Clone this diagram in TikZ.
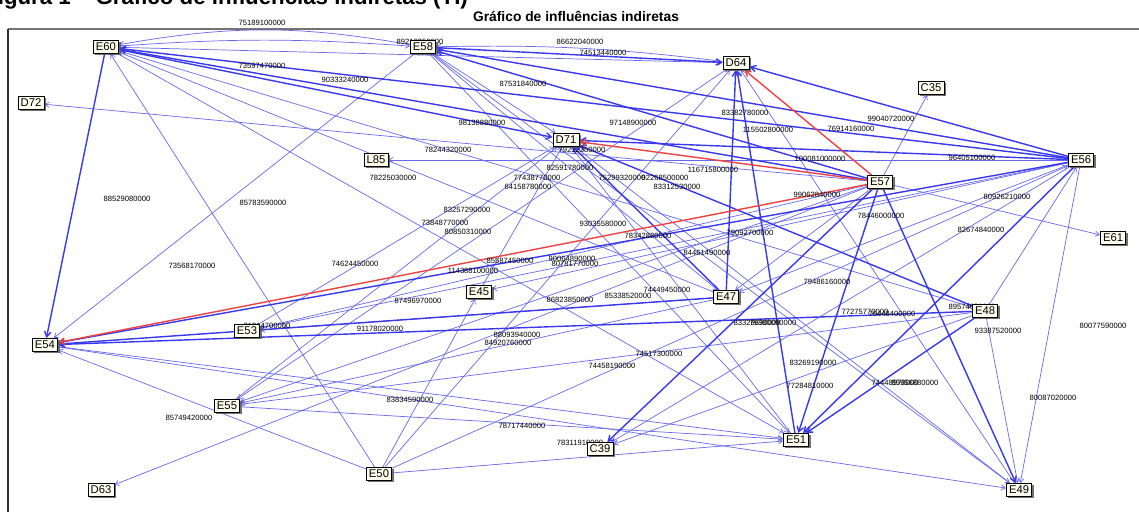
\documentclass[tikz,border=0pt]{standalone}
\usepackage{fontspec}
\setmainfont{Liberation Sans}
\usepackage{xcolor}
\usepackage{tikz}
\usetikzlibrary{arrows.meta,shadows,backgrounds}

\definecolor{azulclaro}{RGB}{104,104,236}
\definecolor{azulforte}{RGB}{56,56,238}
\definecolor{vermelho}{RGB}{238,66,66}
\definecolor{caixa}{RGB}{255,255,240}

\begin{document}
\begin{tikzpicture}[x=0.03cm,y=-0.03cm,
  var/.style={draw=black, fill=caixa, line width=0.7pt, inner xsep=2.3pt, inner ysep=2.2pt,
    font=\fontsize{9.6}{9.6}\selectfont,
    drop shadow={shadow xshift=1.6pt, shadow yshift=-1.6pt, fill=black!65, opacity=0.85}},
  fraca/.style={draw=azulclaro, line width=0.6pt, -{Straight Barb[length=3.5pt,width=4.5pt]}},
  forte/.style={draw=azulforte, line width=1.2pt, -{Straight Barb[length=4.5pt,width=5.5pt]}},
  critica/.style={draw=vermelho, line width=1.2pt, -{Straight Barb[length=4.5pt,width=5.5pt]}},
  valor/.style={font=\fontsize{6.5}{6.5}\selectfont, inner sep=0pt}]

\useasboundingbox (0,0) rectangle (1139,512);

% Títulos
\node[anchor=base east, font=\fontsize{19}{19}\selectfont\bfseries] (figura) at (472,5) {Figura 1 – Gráfico de influências indiretas (TI)};
\node[font=\fontsize{11.8}{12}\selectfont\bfseries] (titulo) at (576,16) {Gráfico de influências indiretas};

% Variáveis
\node[var] (E60) at (106,47) {E60};
\node[var] (E58) at (423,47) {E58};
\node[var] (D64) at (736,63) {D64};
\node[var] (C35) at (931,88) {C35};
\node[var] (D72) at (31,103) {D72};
\node[var] (D71) at (566,140) {D71};
\node[var] (L85) at (376,160) {L85};
\node[var] (E56) at (1081,160) {E56};
\node[var] (E57) at (880,182) {E57};
\node[var] (E61) at (1113,238) {E61};
\node[var] (E45) at (479,292) {E45};
\node[var] (E47) at (726,297) {E47};
\node[var] (E48) at (985,311) {E48};
\node[var] (E53) at (247,331) {E53};
\node[var] (E54) at (45,345) {E54};
\node[var] (E55) at (227,406) {E55};
\node[var] (E51) at (796,440) {E51};
\node[var] (C39) at (600,449) {C39};
\node[var] (E50) at (379,474) {E50};
\node[var] (D63) at (101,490) {D63};
\node[var] (E49) at (1019,490) {E49};

\begin{scope}[on background layer]
% Moldura
\draw[line width=1.5pt, black!55] (8,29) -- (1139,29);
\draw[line width=1.2pt, black!80] (8,29) -- (8,512);

% Influências fracas
\draw[fraca] (E58) to[bend right=10] (E60);
\draw[fraca] (E60) to[bend left=4] (E58);
\draw[fraca] (E60) -- (D64);
\draw[fraca] (D64) to[bend right=4] (E58);
\draw[fraca] (E57) -- (D72);
\draw[fraca] (E50) -- (E60);
\draw[fraca] (E58) -- (E54);
\draw[fraca] (E57) -- (C35);
\draw[fraca] (E57) -- (E61);
\draw[fraca] (E56) -- (L85);
\draw[fraca] (E57) -- (D63);
\draw[fraca] (E50) -- (E54);
\draw[fraca] (E54) -- (E51);
\draw[fraca] (E54) -- (E49);
\draw[fraca] (E55) -- (E51);
\draw[fraca] (E50) -- (E51);
\draw[fraca] (E50) -- (E45);
\draw[fraca] (E50) -- (D64);
\draw[fraca] (D64) -- (E55);
\draw[fraca] (E57) -- (E55);
\draw[fraca] (E47) -- (E55);
\draw[fraca] (E48) -- (E55);
\draw[fraca] (E56) -- (E53);
\draw[fraca] (E48) -- (C39);
\draw[fraca] (E50) -- (E56);
\draw[fraca] (E56) -- (E49);
\draw[fraca] (E49) -- (D64);
\draw[fraca] (E45) -- (D71);
\draw[fraca] (E53) -- (D71);
\draw[fraca] (E55) -- (D71);
\draw[fraca] (E51) -- (D71);
\draw[fraca] (E49) -- (D71);
\draw[fraca] (E58) -- (D71);
\draw[fraca] (E58) -- (E49);
\draw[fraca] (E58) -- (E51);
\draw[fraca] (E58) -- (E47);
\draw[fraca] (E60) -- (E48);
\draw[fraca] (E47) -- (E60);
\draw[fraca] (E60) -- (E51);
\draw[fraca] (E56) -- (E45);
\draw[fraca] (E57) -- (E53);
\draw[fraca] (E56) -- (C39);
\draw[fraca] (E48) -- (E49);
\draw[fraca] (E47) -- (E53);
\draw[fraca] (E57) -- (E47);
\draw[fraca] (E56) -- (E47);
\draw[fraca] (E48) -- (E56);

% Influências fortes
\draw[forte] (E60) -- (E54);
\draw[forte] (E57) -- (E60);
\draw[forte] (E56) -- (E60);
\draw[forte] (E60) -- (D71);
\draw[forte] (E57) -- (E58);
\draw[forte] (E56) -- (E58);
\draw[forte] (E58) -- (D64);
\draw[forte] (E56) -- (D64);
\draw[forte] (E47) -- (D64);
\draw[forte] (E51) -- (D64);
\draw[forte] (E56) -- (D71);
\draw[forte] (E48) -- (D71);
\draw[forte] (E47) -- (D71);
\draw[forte] (E47) -- (E54);
\draw[forte] (E48) -- (E54);
\draw[forte] (E56) -- (E54);
\draw[forte] (E57) -- (E51);
\draw[forte] (E56) -- (E51);
\draw[forte] (E48) -- (E51);
\draw[forte] (E57) -- (E49);
\draw[forte] (E57) -- (C39);

% Influências mais fortes
\draw[critica] (E57) -- (D64);
\draw[critica] (E57) -- (D71);
\draw[critica] (E57) -- (E54);

% Valores
\node[valor] (v01) at (262,23) {75189100000};
\node[valor] (v02) at (420,42) {89216350000};
\node[valor] (v03) at (580,42) {86622040000};
\node[valor] (v04) at (603,53) {74513440000};
\node[valor] (v05) at (262,66) {73597470000};
\node[valor] (v06) at (345,80) {90333240000};
\node[valor] (v07) at (523,84) {87531840000};
\node[valor] (v08) at (482,123) {98138880000};
\node[valor] (v09) at (633,123) {97148900000};
\node[valor] (v10) at (745,113) {83382780000};
\node[valor] (v11) at (768,130) {115502800000};
\node[valor] (v12) at (851,129) {76914160000};
\node[valor] (v13) at (891,119) {99040720000};
\node[valor] (v14) at (448,150) {78244320000};
\node[valor] (v15) at (582,150) {79212250000};
\node[valor] (v16) at (820,159) {100081000000};
\node[valor] (v17) at (972,158) {96405100000};
\node[valor] (v18) at (713,170) {116715800000};
\node[valor] (v19) at (570,168) {82591780000};
\node[valor] (v20) at (537,178) {77438770000};
\node[valor] (v21) at (528,187) {64158780000};
\node[valor] (v22) at (622,178) {75299320000};
\node[valor] (v23) at (665,178) {92268500000};
\node[valor] (v24) at (677,187) {83312530000};
\node[valor] (v25) at (393,178) {78225030000};
\node[valor] (v26) at (817,195) {99062840000};
\node[valor] (v27) at (1007,197) {80926210000};
\node[valor] (v28) at (127,199) {88529080000};
\node[valor] (v29) at (263,203) {85783590000};
\node[valor] (v30) at (467,210) {83257290000};
\node[valor] (v31) at (603,224) {93035580000};
\node[valor] (v32) at (445,223) {73848770000};
\node[valor] (v33) at (468,232) {80850310000};
\node[valor] (v34) at (881,216) {78446000000};
\node[valor] (v35) at (648,236) {78342880000};
\node[valor] (v36) at (750,233) {79092700000};
\node[valor] (v37) at (981,230) {82674840000};
\node[valor] (v38) at (355,264) {74624450000};
\node[valor] (v39) at (192,266) {73568170000};
\node[valor] (v40) at (707,253) {84461490000};
\node[valor] (v41) at (510,261) {85587450000};
\node[valor] (v42) at (572,259) {90064890000};
\node[valor] (v43) at (575,264) {80781770000};
\node[valor] (v44) at (473,271) {114388100000};
\node[valor] (v45) at (827,282) {79486160000};
\node[valor] (v46) at (418,301) {87496970000};
\node[valor] (v47) at (667,290) {74449450000};
\node[valor] (v48) at (628,296) {85338520000};
\node[valor] (v49) at (570,300) {86823850000};
\node[valor] (v50) at (972,307) {89574650000};
\node[valor] (v51) at (865,312) {77275770000};
\node[valor] (v52) at (892,314) {76448400000};
\node[valor] (v53) at (267,326) {81214700000};
\node[valor] (v54) at (380,329) {91178020000};
\node[valor] (v55) at (757,323) {83329690000};
\node[valor] (v56) at (773,323) {79380090000};
\node[valor] (v57) at (998,331) {93387520000};
\node[valor] (v58) at (1103,326) {80077590000};
\node[valor] (v59) at (517,335) {88093940000};
\node[valor] (v60) at (508,343) {84920760000};
\node[valor] (v61) at (659,354) {74517300000};
\node[valor] (v62) at (813,363) {83269190000};
\node[valor] (v63) at (612,366) {74458190000};
\node[valor] (v64) at (810,386) {77284810000};
\node[valor] (v65) at (895,383) {74448970000};
\node[valor] (v66) at (915,383) {85956880000};
\node[valor] (v67) at (189,418) {85749420000};
\node[valor] (v68) at (410,400) {83834590000};
\node[valor] (v69) at (1053,398) {80087020000};
\node[valor] (v70) at (522,426) {78717440000};
\node[valor] (v71) at (580,443) {78311910000};
\end{scope}

\end{tikzpicture}
\end{document}
